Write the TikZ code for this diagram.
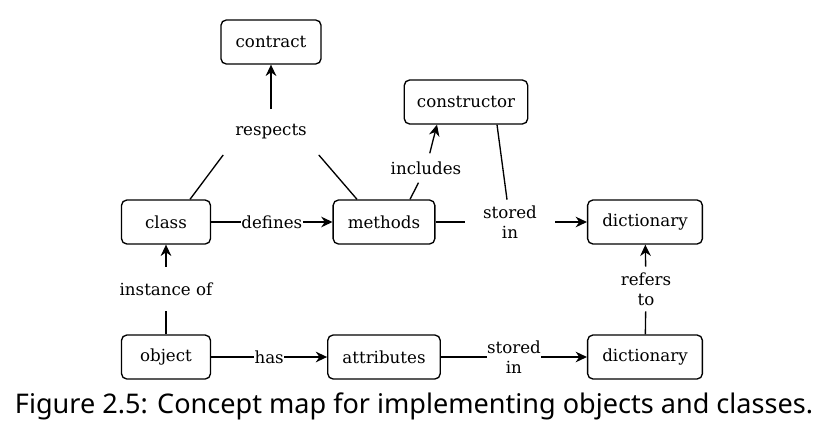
\documentclass[tikz,border=0pt]{standalone}
\usepackage{fontspec}
\setmainfont{DejaVu Serif}
\newfontfamily\captionfont{Noto Sans}
\usepackage{tikz}
\usetikzlibrary{positioning,arrows.meta}

\begin{document}
\begin{tikzpicture}[x=0.75pt,y=-0.75pt,
    font=\fontsize{12.5pt}{15pt}\selectfont,
    concept/.style={draw, line width=1pt, rounded corners=4pt, minimum width=66.75pt, minimum height=33pt, inner xsep=11pt},
    linkbox/.style={minimum width=67.5pt, minimum height=33pt, inner sep=0pt, align=center},
    tag/.style={fill=white, inner sep=0.3pt, align=center},
    link/.style={line width=1pt},
    arrow/.style={line width=1pt, -{Stealth[length=8.5pt,width=8pt]}}]
    \useasboundingbox (0,0) rectangle (838,443);

    % Concepts
    \node[concept] (contract) at (271,42) {contract};
    \node[concept, inner xsep=9.5pt] (constructor) at (466,102) {constructor};
    \node[concept] (class) at (166,222) {class};
    \node[concept] (methods) at (384,222) {methods};
    \node[concept] (dicttop) at (645,222) {dictionary};
    \node[concept] (object) at (166,357) {object};
    \node[concept] (attributes) at (384,357) {attributes};
    \node[concept] (dictbot) at (645,357) {dictionary};

    % Link phrases
    \node[linkbox, minimum width=71.25pt, minimum height=34pt] (respects) at (271,132) {respects};
    \node[inner sep=6pt] (includes) at (426,168) {includes};
    \node[linkbox] (storedtop) at (510,222) {stored\\in};
    \node[linkbox] (instance) at (166,289) {instance of};
    \node[linkbox] (refers) at (646,289) {refers\\to};

    % Connections
    \draw[link] ([xshift=18pt]class.north) -- (respects.south west);
    \draw[link] ([xshift=-20.25pt]methods.north) -- (respects.south east);
    \draw[arrow] (respects) -- (contract);
    \draw[arrow] (class) -- node[tag] {defines} (methods);
    \draw[link] ([xshift=19.5pt]methods.north) -- (includes);
    \draw[arrow] (includes) -- ([xshift=-21.75pt]constructor.south);
    \draw[link] (methods) -- (storedtop);
    \draw[link] ([xshift=23.25pt]constructor.south) -- (storedtop);
    \draw[arrow] (storedtop) -- (dicttop);
    \draw[link] (object) -- (instance);
    \draw[arrow] (instance) -- (class);
    \draw[arrow] (object) -- node[tag] {has} (attributes);
    \draw[arrow] (attributes) -- node[tag] {stored\\in} (dictbot);
    \draw[link] (dictbot) -- (refers);
    \draw[arrow] (refers) -- (dicttop);

    % Caption
    \node[font=\captionfont\fontsize{20.3pt}{24pt}\selectfont] (caption) at (414,406) {Figure 2.5: Concept map for implementing objects and classes.};
\end{tikzpicture}
\end{document}
